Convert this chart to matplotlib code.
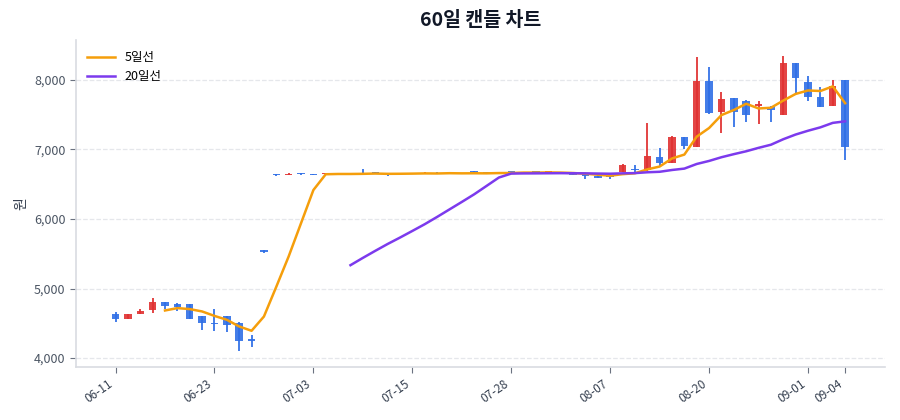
import numpy as np
import pandas as pd
import matplotlib
matplotlib.use('Agg')
import matplotlib.pyplot as plt
from matplotlib.ticker import FuncFormatter

plt.rcParams['font.family'] = ['Noto Sans CJK KR', 'DejaVu Sans']

#trading days (MM-DD)
dates = ['06-11', '06-12', '06-13', '06-16', '06-17', '06-18', '06-19', '06-20',
         '06-23', '06-24', '06-25', '06-26', '06-27', '06-30', '07-01', '07-02',
         '07-03', '07-04', '07-07', '07-08', '07-09', '07-10', '07-11', '07-14',
         '07-15', '07-16', '07-17', '07-18', '07-21', '07-22', '07-23', '07-24',
         '07-28', '07-29', '07-30', '07-31', '08-01', '08-04', '08-05', '08-06',
         '08-07', '08-08', '08-11', '08-12', '08-13', '08-14', '08-18', '08-19',
         '08-20', '08-21', '08-22', '08-25', '08-26', '08-27', '08-28', '08-29',
         '09-01', '09-02', '09-03', '09-04']

#daily prices
opens = [4640, 4560, 4640, 4690, 4800, 4770, 4780, 4600, 4510, 4600,
         4500, 4270, 5550, 6640, 6630, 6650, 6645, 6640, 6655, 6660,
         6665, 6670, 6655, 6640, 6645, 6650, 6665, 6650, 6660, 6680,
         6670, 6660, 6670, 6660, 6670, 6665, 6670, 6645, 6640, 6625,
         6610, 6670, 6720, 6700, 6890, 6810, 7180, 7040, 7980, 7540,
         7745, 7700, 7630, 7610, 7500, 8250, 7975, 7760, 7625, 8000]
closes = [4560, 4630, 4670, 4810, 4750, 4730, 4560, 4500, 4490, 4470,
          4250, 4250, 5525, 6630, 6650, 6640, 6635, 6660, 6650, 6650,
          6650, 6655, 6640, 6655, 6660, 6665, 6650, 6660, 6645, 6665,
          6660, 6670, 6665, 6675, 6665, 6670, 6660, 6635, 6620, 6595,
          6600, 6770, 6700, 6900, 6800, 7180, 7050, 7990, 7520, 7730,
          7545, 7500, 7650, 7570, 8250, 8020, 7750, 7610, 7905, 7040]
highs = [4660, 4630, 4700, 4870, 4800, 4790, 4780, 4600, 4710, 4600,
         4520, 4330, 5550, 6645, 6660, 6665, 6650, 6665, 6660, 6665,
         6715, 6675, 6660, 6660, 6665, 6670, 6670, 6665, 6665, 6690,
         6675, 6675, 6675, 6680, 6675, 6675, 6675, 6650, 6645, 6630,
         6630, 6790, 6770, 7380, 7020, 7190, 7180, 8330, 8190, 7820,
         7745, 7710, 7690, 7620, 8345, 8250, 8050, 7895, 8000, 8000]
lows = [4520, 4560, 4640, 4650, 4700, 4680, 4560, 4410, 4390, 4380,
        4100, 4160, 5515, 6625, 6630, 6630, 6630, 6640, 6645, 6645,
        6645, 6650, 6620, 6640, 6645, 6650, 6645, 6650, 6640, 6660,
        6655, 6655, 6660, 6655, 6660, 6660, 6655, 6630, 6570, 6585,
        6575, 6670, 6680, 6690, 6760, 6810, 7000, 7040, 7510, 7230,
        7320, 7390, 7370, 7390, 7500, 7810, 7700, 7607, 7625, 6850]

up_color = '#e03131'
down_color = '#2f6fe6'

df = pd.DataFrame({'open': opens, 'close': closes, 'high': highs, 'low': lows}, index=dates)
df['ma5'] = df['close'].rolling(5).mean()
df['ma20'] = df['close'].rolling(20).mean()
x = np.arange(len(df))

fig = plt.figure(figsize=(9, 4.2), dpi=100)
ax = fig.add_axes([0.0844, 0.126, 0.8986, 0.779])

colors = [up_color if c >= o else down_color for o, c in zip(df['open'], df['close'])]
bottoms = np.minimum(df['open'], df['close'])
heights = np.maximum(np.abs(df['close'] - df['open']), 18)

#wicks then bodies
ax.vlines(x, df['low'], df['high'], colors=colors, linewidth=1.4, alpha=0.9, zorder=2)
ax.bar(x, heights, bottom=bottoms, width=0.6, color=colors, alpha=0.9, zorder=2)

ax.plot(x, df['ma5'], color='#f59e0b', linewidth=1.8, label='5일선', zorder=3)
ax.plot(x, df['ma20'], color='#7c3aed', linewidth=1.8, label='20일선', zorder=3)

ax.set_xlim(-3.2, 62.2)
ax.set_ylim(3870, 8575)

ticks = list(range(0, len(df), 8)) + [len(df) - 1]
ax.set_xticks(ticks)
ax.set_xticklabels([dates[i] for i in ticks], rotation=35, ha='right', fontsize=8.5, color='#374151')
ax.set_yticks([4000, 5000, 6000, 7000, 8000])
ax.yaxis.set_major_formatter(FuncFormatter(lambda v, p: f'{int(v):,}'))
ax.tick_params(axis='y', labelsize=9, colors='#4b5563', length=4, color='#6b7280')
ax.tick_params(axis='x', length=4, color='#6b7280')

ax.grid(axis='y', linestyle='--', color='#e5e7eb', linewidth=0.9)
ax.set_axisbelow(True)
for s in ['top', 'right']:
    ax.spines[s].set_visible(False)
for s in ['left', 'bottom']:
    ax.spines[s].set_color('#d9dce1')
    ax.spines[s].set_linewidth(1.2)

ax.set_ylabel('원', fontsize=10, color='#374151')
ax.set_title('60일 캔들 차트', fontsize=14, fontweight='bold', color='#111827', pad=10)
ax.legend(loc='upper left', frameon=False, fontsize=9, handlelength=2.2)

plt.savefig('out.png')
plt.close()
